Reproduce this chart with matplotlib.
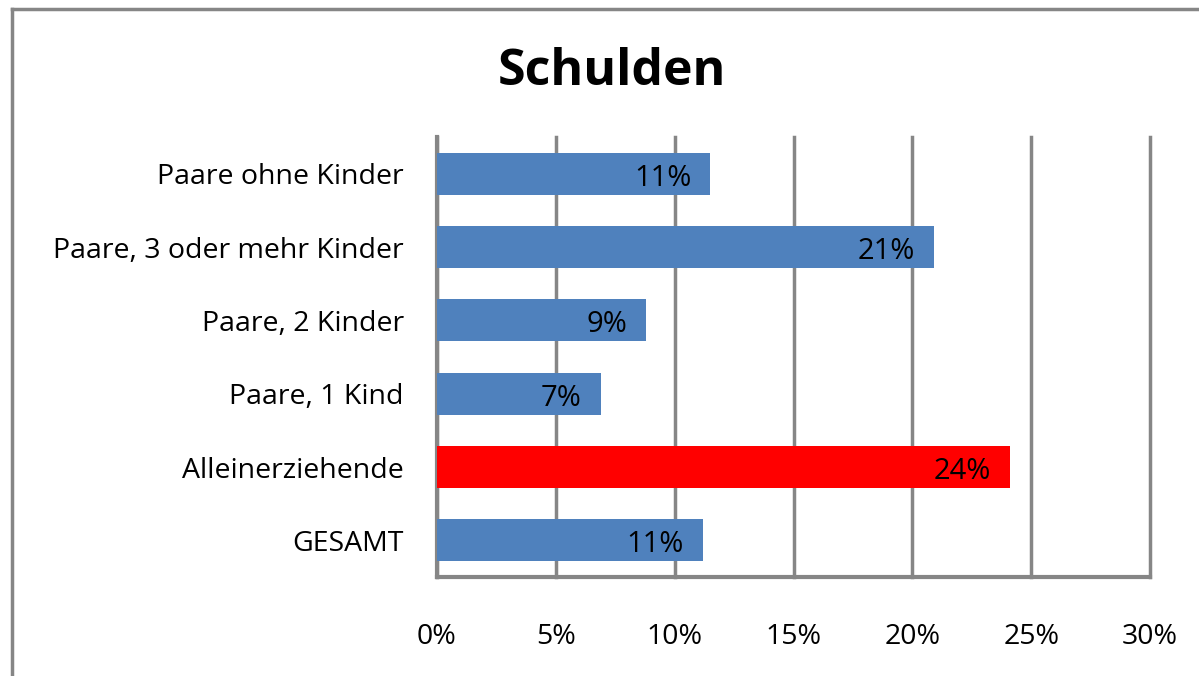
import matplotlib
matplotlib.use("Agg")
import matplotlib.pyplot as plt

categories = ["Paare ohne Kinder", "Paare, 3 oder mehr Kinder", "Paare, 2 Kinder",
              "Paare, 1 Kind", "Alleinerziehende", "GESAMT"]
values = [11.5, 20.9, 8.8, 6.9, 24.1, 11.2]
labels = ["11%", "21%", "9%", "7%", "24%", "11%"]
colors = ["#4F81BD", "#4F81BD", "#4F81BD", "#4F81BD", "#FF0000", "#4F81BD"]
xticks = [0, 5, 10, 15, 20, 25, 30]
xticklabels = ["0%", "5%", "10%", "15%", "20%", "25%", "30%"]

plt.rcParams['font.family'] = ['Open Sans', 'DejaVu Sans']

fig = plt.figure(figsize=(11.99, 6.76), dpi=100)
W, H = 1199, 676
ax = fig.add_axes([437 / W, 1 - 577 / H, (1150 - 437) / W, (577 - 137) / H])

y = list(range(len(categories)))
ax.barh(y, values, height=0.57, color=colors, edgecolor="none", zorder=3)
ax.set_ylim(len(categories) - 0.5, -0.5)
ax.set_xlim(0, 30)

for yi, v, lab in zip(y, values, labels):
    ax.text(v - 0.8, yi + 0.06, lab, ha="right", va="center", fontsize=21, color="black", zorder=4)

ax.set_yticks(y)
ax.set_yticklabels(categories, fontsize=20.5)
ax.set_xticks(xticks)
ax.set_xticklabels(xticklabels, fontsize=20.5)
ax.tick_params(axis="y", length=0, pad=24)
ax.tick_params(axis="x", length=0, pad=33)

ax.grid(axis="x", color="#868686", linewidth=2.5, zorder=1)
for gl in ax.get_xgridlines():
    gl.set_clip_on(False)
for s in ["top", "right"]:
    ax.spines[s].set_visible(False)
for s in ["left", "bottom"]:
    ax.spines[s].set_color("#868686")
    ax.spines[s].set_linewidth(3)

fig.text(612 / W, 1 - 72 / H, "Schulden", ha="center", va="center",
         fontsize=36, fontweight="bold")

# outer chart border (left and top visible)
fig.add_artist(plt.Line2D([12 / W, 12 / W], [0, 1 - 9 / H], transform=fig.transFigure,
                          color="#868686", linewidth=2.5))
fig.add_artist(plt.Line2D([12 / W, 1], [1 - 9 / H, 1 - 9 / H], transform=fig.transFigure,
                          color="#868686", linewidth=2.5))

fig.savefig("out.png", dpi=100)
